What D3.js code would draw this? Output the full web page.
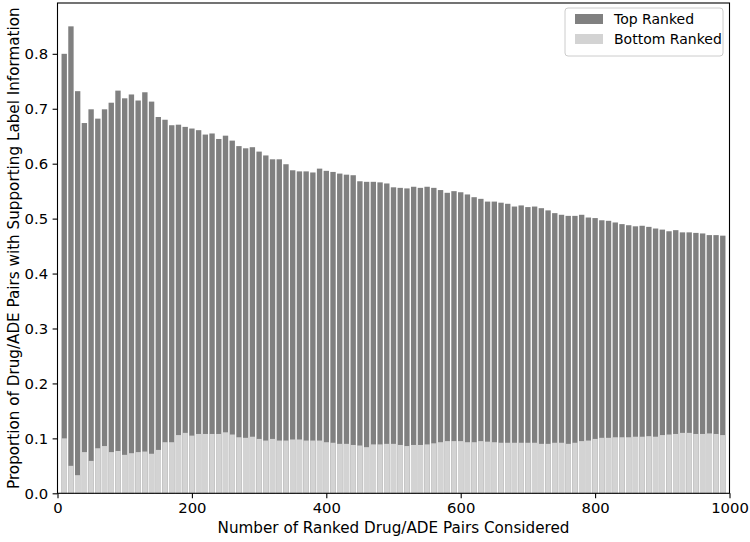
<!DOCTYPE html>
<html>
<head>
<meta charset="utf-8">
<script src="https://cdn.jsdelivr.net/npm/d3@7"></script>
<style>
  html, body { margin: 0; padding: 0; background: #fff; }
  svg text { font-family: "DejaVu Sans", sans-serif; }
</style>
</head>
<body>
<div id="chart"></div>
<script>
// number of pairs considered (bar positions)
const pairCounts = [
  10, 20, 30, 40, 50, 60, 70, 80, 90, 100,
  110, 120, 130, 140, 150, 160, 170, 180, 190, 200,
  210, 220, 230, 240, 250, 260, 270, 280, 290, 300,
  310, 320, 330, 340, 350, 360, 370, 380, 390, 400,
  410, 420, 430, 440, 450, 460, 470, 480, 490, 500,
  510, 520, 530, 540, 550, 560, 570, 580, 590, 600,
  610, 620, 630, 640, 650, 660, 670, 680, 690, 700,
  710, 720, 730, 740, 750, 760, 770, 780, 790, 800,
  810, 820, 830, 840, 850, 860, 870, 880, 890, 900,
  910, 920, 930, 940, 950, 960, 970, 980, 990
];

const topRanked = [
  0.800, 0.850, 0.732, 0.674, 0.699, 0.682, 0.699, 0.711, 0.733, 0.719,
  0.726, 0.715, 0.730, 0.713, 0.685, 0.680, 0.670, 0.671, 0.667, 0.664,
  0.661, 0.653, 0.655, 0.645, 0.651, 0.642, 0.632, 0.628, 0.630, 0.622,
  0.615, 0.608, 0.608, 0.599, 0.588, 0.586, 0.586, 0.584, 0.591, 0.587,
  0.585, 0.582, 0.580, 0.579, 0.568, 0.567, 0.567, 0.566, 0.564, 0.557,
  0.556, 0.555, 0.558, 0.556, 0.558, 0.556, 0.552, 0.547, 0.550, 0.548,
  0.544, 0.539, 0.536, 0.531, 0.531, 0.529, 0.527, 0.522, 0.524, 0.521,
  0.522, 0.519, 0.515, 0.510, 0.507, 0.505, 0.505, 0.507, 0.502, 0.501,
  0.497, 0.496, 0.493, 0.490, 0.488, 0.486, 0.487, 0.485, 0.482, 0.480,
  0.477, 0.479, 0.475, 0.475, 0.474, 0.473, 0.470, 0.470, 0.469
];

const bottomRanked = [
  0.100, 0.050, 0.033, 0.075, 0.059, 0.082, 0.086, 0.075, 0.077, 0.070,
  0.073, 0.075, 0.076, 0.072, 0.079, 0.093, 0.093, 0.106, 0.110, 0.105,
  0.108, 0.108, 0.108, 0.108, 0.111, 0.107, 0.102, 0.101, 0.103, 0.099,
  0.096, 0.099, 0.096, 0.096, 0.098, 0.098, 0.096, 0.096, 0.096, 0.093,
  0.092, 0.090, 0.090, 0.088, 0.087, 0.084, 0.089, 0.089, 0.090, 0.090,
  0.088, 0.086, 0.088, 0.088, 0.089, 0.091, 0.093, 0.095, 0.095, 0.095,
  0.093, 0.093, 0.095, 0.094, 0.093, 0.092, 0.092, 0.092, 0.092, 0.092,
  0.092, 0.090, 0.090, 0.092, 0.092, 0.090, 0.092, 0.095, 0.096, 0.099,
  0.101, 0.101, 0.102, 0.102, 0.102, 0.103, 0.103, 0.104, 0.103, 0.106,
  0.107, 0.108, 0.110, 0.110, 0.108, 0.108, 0.109, 0.108, 0.106
];

const xTicks = [0, 200, 400, 600, 800, 1000];
const yTicks = [0.0, 0.1, 0.2, 0.3, 0.4, 0.5, 0.6, 0.7, 0.8];
const seriesNames = ["Top Ranked", "Bottom Ranked"];

const width = 750, height = 542;
const margin = { top: 3, right: 20.5, bottom: 48.7, left: 57.5 };
const innerW = width - margin.left - margin.right;
const innerH = height - margin.top - margin.bottom;
const barWidth = 8; // in data units
const colors = ["#808080", "#d3d3d3"];

const x = d3.scaleLinear().domain([0, 1000]).range([0, innerW]);
const y = d3.scaleLinear().domain([0, 0.8925]).range([innerH, 0]);

const data = pairCounts.map((n, i) => ({ n, top: topRanked[i], bottom: bottomRanked[i] }));

const svg = d3.select("#chart").append("svg")
  .attr("width", width)
  .attr("height", height);

const chart = svg.append("g")
  .attr("transform", `translate(${margin.left},${margin.top})`);

// top ranked bars
chart.selectAll(".bar-top")
  .data(data)
  .enter().append("rect")
  .attr("class", "bar-top")
  .attr("x", d => x(d.n - barWidth / 2))
  .attr("width", x(barWidth) - x(0))
  .attr("y", d => y(d.top))
  .attr("height", d => innerH - y(d.top))
  .attr("fill", colors[0]);

// bottom ranked bars drawn on top
chart.selectAll(".bar-bottom")
  .data(data)
  .enter().append("rect")
  .attr("class", "bar-bottom")
  .attr("x", d => x(d.n - barWidth / 2))
  .attr("width", x(barWidth) - x(0))
  .attr("y", d => y(d.bottom))
  .attr("height", d => innerH - y(d.bottom))
  .attr("fill", colors[1]);

// axes
const xAxis = chart.append("g")
  .attr("transform", `translate(0,${innerH})`)
  .call(d3.axisBottom(x).tickValues(xTicks).tickFormat(d3.format("d")).tickSize(4.9).tickPadding(4.5));

const yAxis = chart.append("g")
  .call(d3.axisLeft(y).tickValues(yTicks).tickFormat(d3.format(".1f")).tickSize(4.9).tickPadding(4.5));

[xAxis, yAxis].forEach(g => {
  g.select(".domain").remove();
  g.selectAll("line").attr("stroke", "#000").attr("stroke-width", 1.1);
  g.selectAll("text").style("font-size", "14.8px").attr("fill", "#000");
});

// spines
chart.append("rect")
  .attr("x", 0).attr("y", 0)
  .attr("width", innerW).attr("height", innerH)
  .attr("fill", "none")
  .attr("stroke", "#000")
  .attr("stroke-width", 1.1);

// axis labels
svg.append("text")
  .attr("x", margin.left + innerW / 2)
  .attr("y", 533)
  .attr("text-anchor", "middle")
  .style("font-size", "15.2px")
  .text("Number of Ranked Drug/ADE Pairs Considered");

svg.append("text")
  .attr("transform", `translate(18.5,${margin.top + innerH / 2}) rotate(-90)`)
  .attr("text-anchor", "middle")
  .style("font-size", "15.2px")
  .text("Proportion of Drug/ADE Pairs with Supporting Label Information");

// legend
const legend = svg.append("g").attr("transform", "translate(565,8)");
legend.append("rect")
  .attr("width", 158).attr("height", 48)
  .attr("rx", 3)
  .attr("fill", "#fff").attr("fill-opacity", 0.8)
  .attr("stroke", "#ccc").attr("stroke-width", 1);

seriesNames.forEach((name, i) => {
  const row = legend.append("g").attr("transform", `translate(10,${6 + i * 20})`);
  row.append("rect")
    .attr("width", 28).attr("height", 10)
    .attr("fill", colors[i]);
  row.append("text")
    .attr("x", 39).attr("y", 10)
    .style("font-size", "14px")
    .text(name);
});
</script>
</body>
</html>
